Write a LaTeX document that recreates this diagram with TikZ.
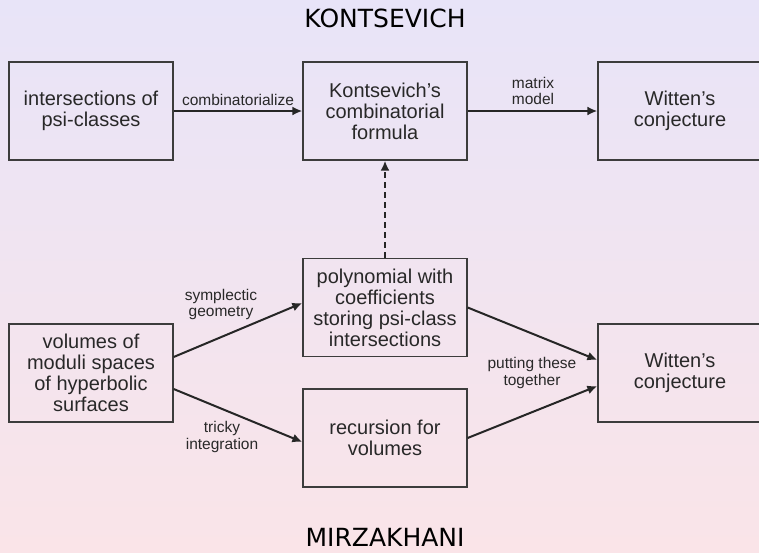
\documentclass[tikz,border=0pt]{standalone}
\usepackage{fontspec}
\setmainfont{Liberation Sans}
\newfontfamily\titlefont{DejaVu Sans}
\usetikzlibrary{arrows.meta,calc}
\definecolor{bgtop}{RGB}{232,228,248}
\definecolor{bgbot}{RGB}{250,228,232}
\definecolor{boxline}{RGB}{60,60,60}
\definecolor{txt}{RGB}{40,40,40}
\tikzset{
  box/.style={draw=boxline, line width=1.3pt, minimum width=164pt, minimum height=98pt,
    inner sep=0pt, align=center, text=txt, font=\fontsize{20}{21}\selectfont},
  arr/.style={draw=black!85, line width=2pt, -{Latex[length=10pt,width=9pt]}},
  dasharr/.style={arr, dash pattern=on 6pt off 4pt},
  lab/.style={align=center, text=txt, inner sep=0pt, font=\fontsize{15.5}{16.5}\selectfont},
  ttl/.style={inner sep=0pt, anchor=base, font=\titlefont\fontsize{25}{25}\selectfont}
}
\begin{document}
\begin{tikzpicture}[x=1pt,y=-1pt]
\clip (0,0) rectangle (759,552);
\shade[top color=bgtop, bottom color=bgbot] (0,0) rectangle (759,552);
\node[ttl] (t1) at (385,27) {KONTSEVICH};
\node[ttl] (t2) at (385,546) {MIRZAKHANI};
\node[box] (A) at (91,111) {intersections of\\psi-classes};
\node[box] (B) at (385,111) {Kontsevich's\\combinatorial\\formula};
\node[box] (C) at (680,111) {Witten's\\conjecture};
\node[box] (D) at (91,373) {volumes of\\moduli spaces\\of hyperbolic\\surfaces};
\node[box] (E) at (385,307.5) {polynomial with\\coefficients\\storing psi-class\\intersections};
\node[box] (F) at (385,438) {recursion for\\volumes};
\node[box] (G) at (680,373) {Witten's\\conjecture};
\draw[arr] (A) -- (B);
\draw[arr] (B) -- (C);
\draw[dasharr] (E) -- (B);
\draw[arr] ([yshift=16pt]D.east) -- ([yshift=4.5pt]E.west);
\draw[arr] ([yshift=-16pt]D.east) -- ([yshift=-4pt]F.west);
\draw[arr] (E.east) -- ([yshift=13pt]G.west);
\draw[arr] (F.east) -- ([yshift=-13pt]G.west);
\node[lab] (l1) at (238,100) {combinatorialize};
\node[lab] (l2) at (533,91) {matrix\\model};
\node[lab] (l3) at (221,304.5) {symplectic\\geometry};
\node[lab] (l4) at (222,437) {tricky\\integration};
\node[lab] (l5) at (532,373) {putting these\\together};
\end{tikzpicture}
\end{document}
